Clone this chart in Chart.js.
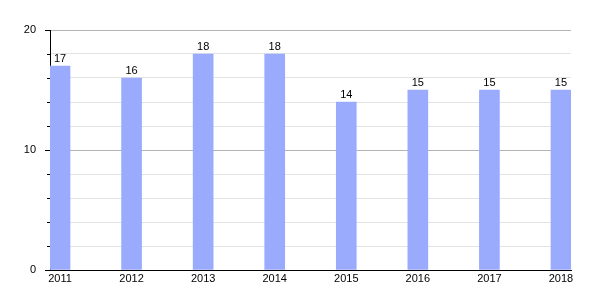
<!DOCTYPE html>
<html>
<head>
<meta charset="utf-8">
<script src="https://cdn.jsdelivr.net/npm/chart.js@4"></script>
<style>
  html, body { margin: 0; padding: 0; background: #fff; }
  #wrap { width: 600px; height: 300px; }
</style>
</head>
<body>
<div id="wrap"><canvas id="c" width="600" height="300"></canvas></div>
<script>
const years = [2011, 2012, 2013, 2014, 2015, 2016, 2017, 2018];
const counts = [17, 16, 18, 18, 14, 15, 15, 15];
const yTicks = [0, 2, 4, 6, 8, 10, 12, 14, 16, 18, 20];

Chart.defaults.font.family = '"Liberation Sans", Arial, sans-serif';
Chart.defaults.font.size = 11;
Chart.defaults.color = '#000';

// values printed over each bar
const barValues = {
  id: 'barValues',
  afterDatasetsDraw(chart) {
    const { ctx } = chart;
    ctx.save();
    ctx.font = '11px "Liberation Sans", Arial, sans-serif';
    ctx.fillStyle = '#000';
    ctx.textAlign = 'center';
    ctx.textBaseline = 'bottom';
    chart.getDatasetMeta(0).data.forEach((bar, i) => {
      ctx.fillText(String(counts[i]), bar.x, bar.y - 2);
    });
    ctx.restore();
  },
};

// short tick marks on the y axis, longer for the labelled ones
const yTickMarks = {
  id: 'yTickMarks',
  afterDraw(chart) {
    const { ctx, chartArea, scales } = chart;
    ctx.save();
    ctx.strokeStyle = '#000';
    ctx.lineWidth = 1;
    yTicks.forEach(v => {
      const y = Math.round(scales.y.getPixelForValue(v)) + 0.5;
      const len = v % 10 === 0 ? 5 : 3;
      ctx.beginPath();
      ctx.moveTo(chartArea.left - len, y);
      ctx.lineTo(chartArea.left, y);
      ctx.stroke();
    });
    ctx.restore();
  },
};

new Chart(document.getElementById('c'), {
  type: 'bar',
  data: {
    datasets: [{
      data: years.map((yr, i) => ({ x: yr, y: counts[i] })),
      backgroundColor: '#9aabfd',
      barThickness: 20,
      borderWidth: 0,
    }],
  },
  options: {
    responsive: false,
    animation: false,
    layout: { padding: { top: 30, right: 29, left: 0, bottom: 0 } },
    plugins: { legend: { display: false }, tooltip: { enabled: false } },
    scales: {
      x: {
        type: 'linear',
        offset: false,
        min: years[0] - 0.14,
        max: years[years.length - 1] + 0.14,
        afterBuildTicks: s => { s.ticks = years.map(v => ({ value: v })); },
        afterFit: s => { s.height = 30; },
        ticks: { callback: v => String(v), padding: 2, maxRotation: 0, autoSkip: false },
        grid: { display: false, drawTicks: false, offset: false },
        border: { color: '#000', width: 1 },
      },
      y: {
        min: 0,
        max: 20,
        afterBuildTicks: s => { s.ticks = yTicks.map(v => ({ value: v })); },
        afterFit: s => { s.width = 50; },
        ticks: { callback: v => (v % 10 === 0 ? String(v) : ''), padding: 14 },
        grid: {
          drawTicks: false,
          color: c => (c.tick && c.tick.value % 10 === 0 ? '#b4b4b4' : '#e3e3e3'),
        },
        border: { color: '#000', width: 1 },
      },
    },
  },
  plugins: [barValues, yTickMarks],
});
</script>
</body>
</html>
